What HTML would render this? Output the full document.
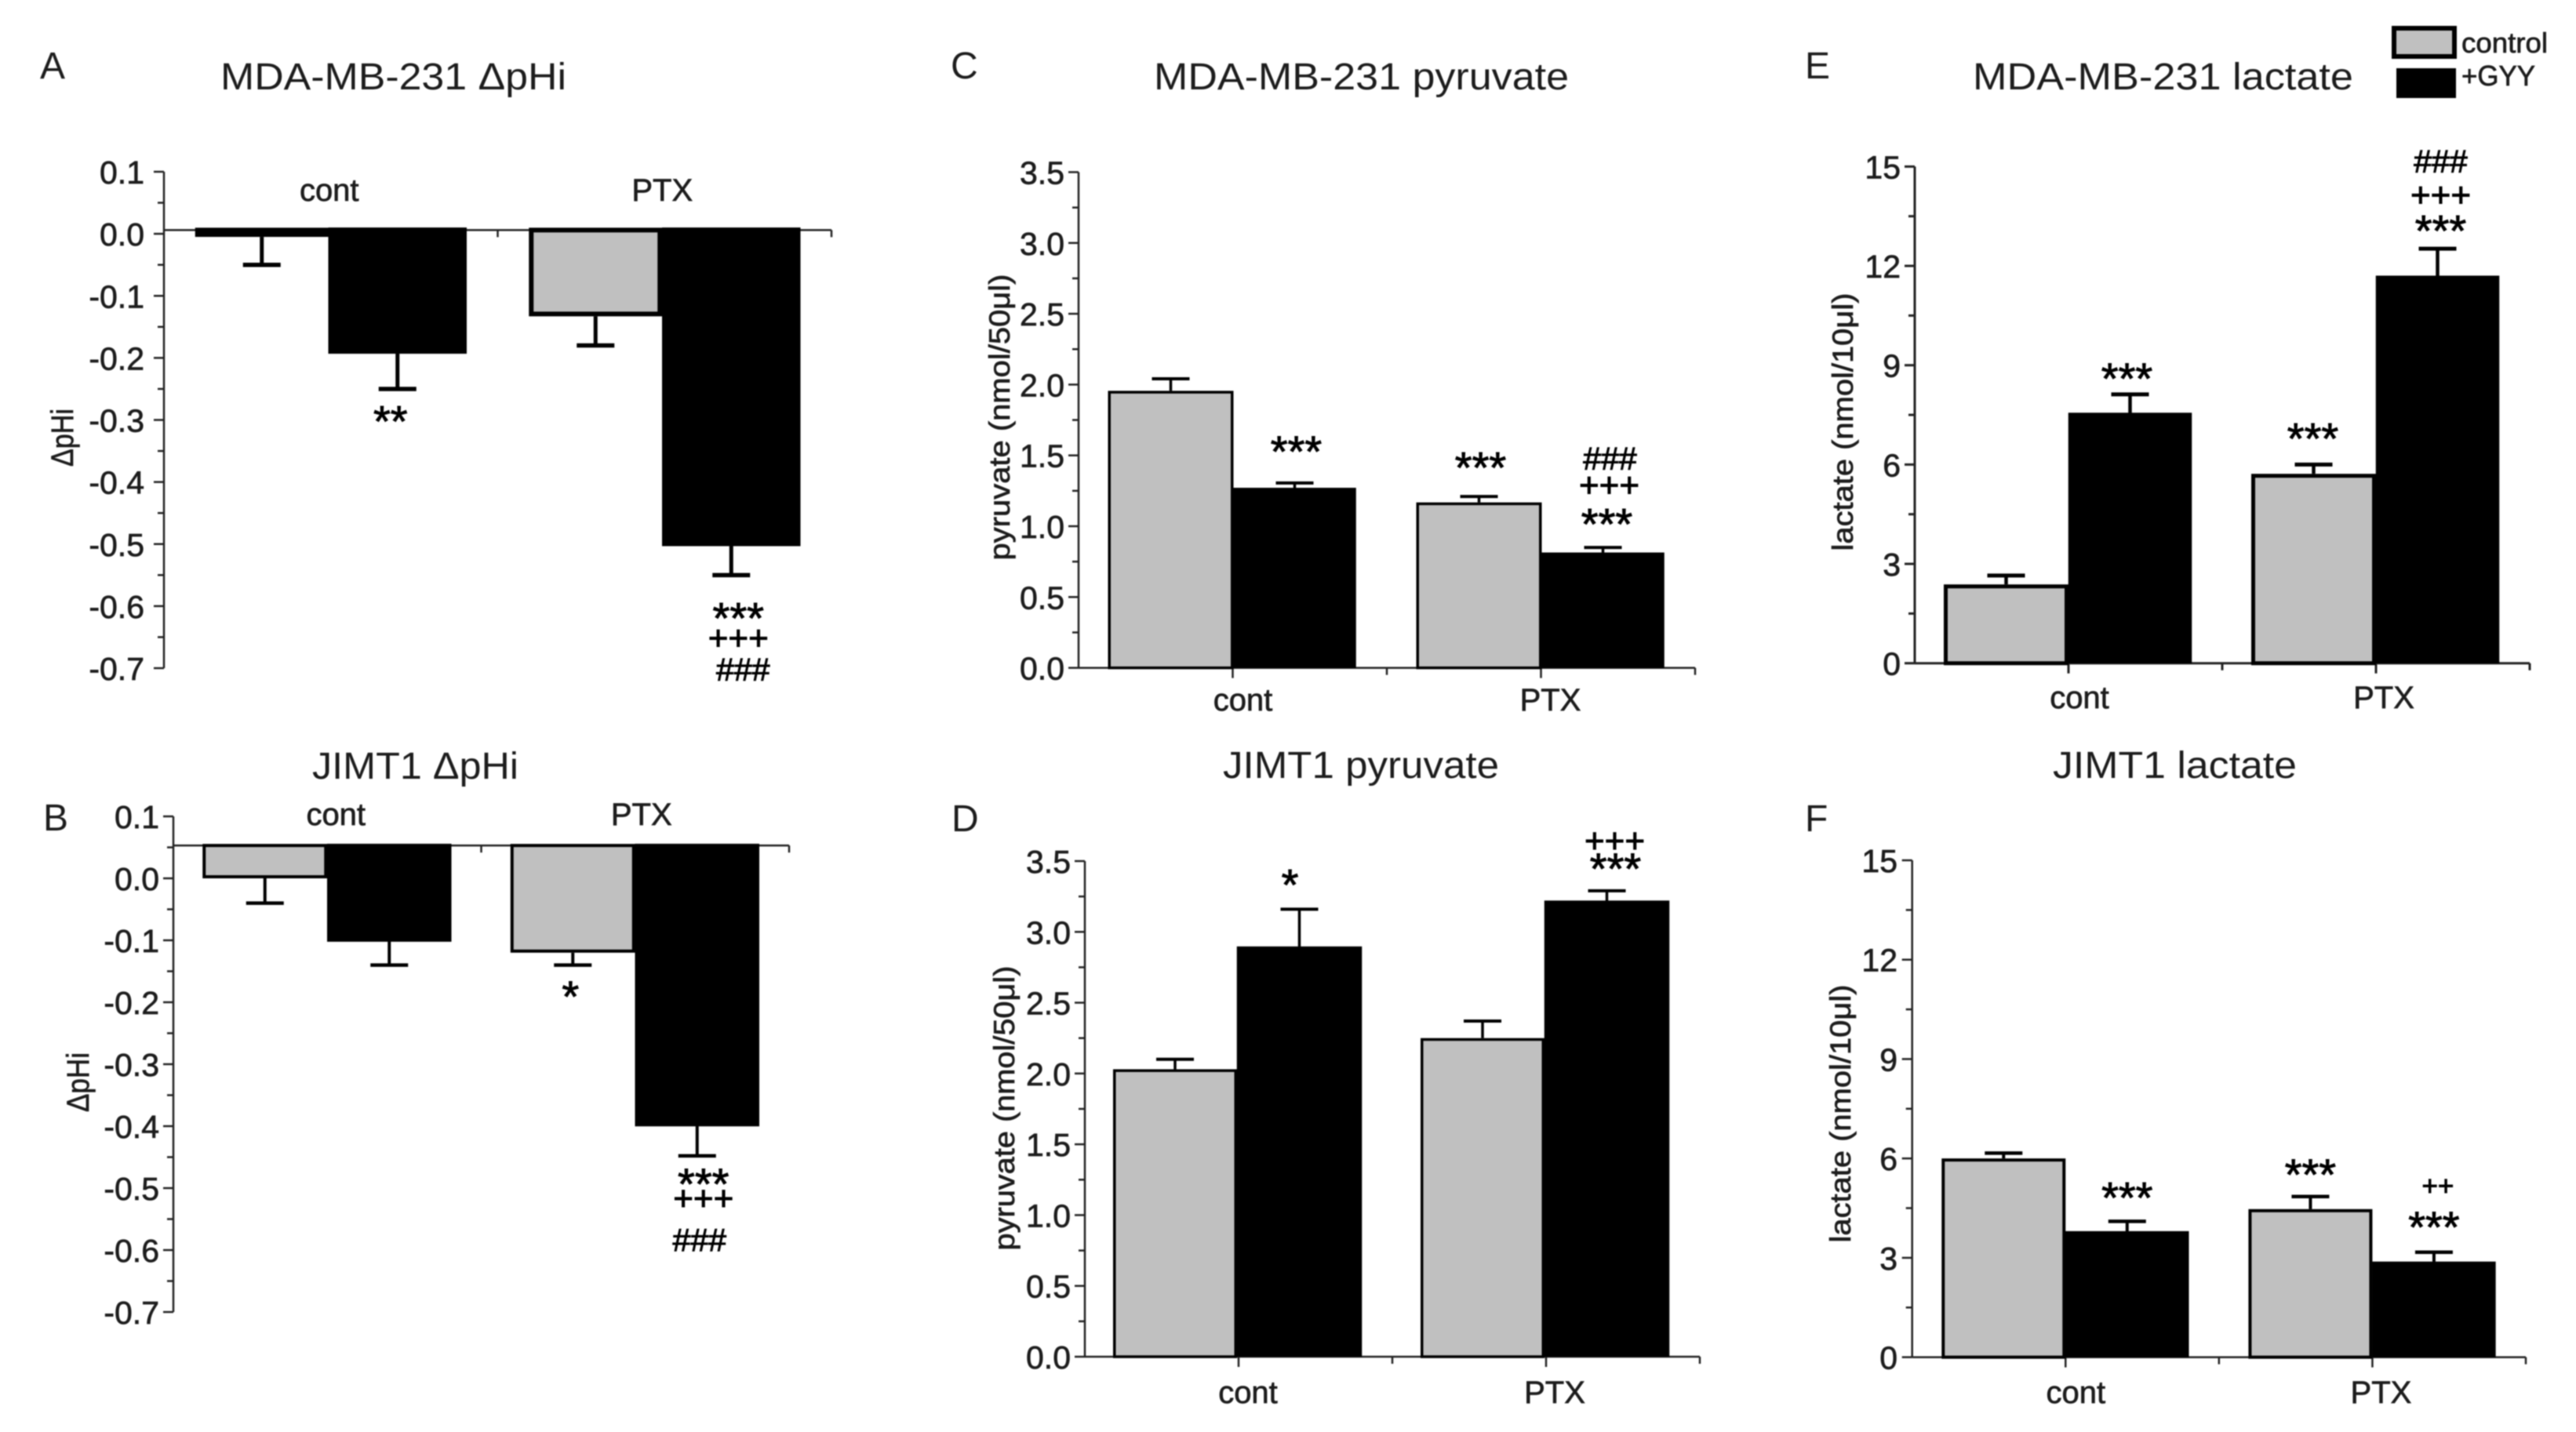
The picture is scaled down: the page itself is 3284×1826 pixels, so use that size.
<!DOCTYPE html>
<html lang="en">
<head>
<meta charset="utf-8">
<title>MDA-MB-231 and JIMT1 pHi, pyruvate and lactate</title>
<style>
html,body{margin:0;padding:0;background:#fff;}
svg{display:block;width:3284px;height:1826px;font-family:"Liberation Sans",sans-serif;filter:blur(0.7px);}
text{fill:#1c1c1c;}
.heavy{stroke:#1c1c1c;stroke-width:0.7px;}
.mark{stroke:#000;stroke-width:1px;fill:#000;}
</style>
</head>
<body>
<svg id="figure" xmlns="http://www.w3.org/2000/svg" width="3284" height="1826" viewBox="0 0 3284 1826">
  <rect x="0" y="0" width="3284" height="1826" fill="#fff"/>

  <text x="51" y="100" font-size="48">A</text>
  <text x="55" y="1059" font-size="48">B</text>
  <text x="1212" y="100" font-size="48">C</text>
  <text x="1213" y="1060" font-size="48">D</text>
  <text x="2301" y="100" font-size="48">E</text>
  <text x="2301" y="1060" font-size="48">F</text>

  <text x="281" y="114" font-size="48" textLength="441" lengthAdjust="spacingAndGlyphs">MDA-MB-231 ΔpHi</text>
  <text x="398" y="993" font-size="48" textLength="263" lengthAdjust="spacingAndGlyphs">JIMT1 ΔpHi</text>
  <text x="1471" y="114" font-size="48" textLength="529" lengthAdjust="spacingAndGlyphs">MDA-MB-231 pyruvate</text>
  <text x="1559" y="992" font-size="48" textLength="352" lengthAdjust="spacingAndGlyphs">JIMT1 pyruvate</text>
  <text x="2515" y="114" font-size="48" textLength="485" lengthAdjust="spacingAndGlyphs">MDA-MB-231 lactate</text>
  <text x="2617" y="992" font-size="48" textLength="311" lengthAdjust="spacingAndGlyphs">JIMT1 lactate</text>

  <text class="heavy" transform="translate(93 558) rotate(-90)" text-anchor="middle" font-size="40" textLength="74" lengthAdjust="spacingAndGlyphs">ΔpHi</text>
  <text class="heavy" transform="translate(113 1380) rotate(-90)" text-anchor="middle" font-size="40" textLength="76" lengthAdjust="spacingAndGlyphs">ΔpHi</text>
  <text class="heavy" transform="translate(1287 532) rotate(-90)" text-anchor="middle" font-size="37" textLength="365" lengthAdjust="spacingAndGlyphs">pyruvate (nmol/50μl)</text>
  <text class="heavy" transform="translate(1293 1413) rotate(-90)" text-anchor="middle" font-size="37" textLength="363" lengthAdjust="spacingAndGlyphs">pyruvate (nmol/50μl)</text>
  <text class="heavy" transform="translate(2362 538) rotate(-90)" text-anchor="middle" font-size="37" textLength="329" lengthAdjust="spacingAndGlyphs">lactate (nmol/10μl)</text>
  <text class="heavy" transform="translate(2359 1420) rotate(-90)" text-anchor="middle" font-size="37" textLength="329" lengthAdjust="spacingAndGlyphs">lactate (nmol/10μl)</text>

  <g>
    <rect x="3052" y="36" width="77" height="36" fill="#c0c0c0" stroke="#000" stroke-width="6"/>
    <text class="heavy" x="3138" y="67" font-size="36" textLength="110" lengthAdjust="spacingAndGlyphs">control</text>
    <rect x="3055" y="87" width="76" height="38" fill="#000"/>
    <text class="heavy" x="3138" y="109" font-size="36" textLength="94" lengthAdjust="spacingAndGlyphs">+GYY</text>
  </g>
</svg>

<script>
// Shared labels
const categories = ['cont', 'PTX'];
const seriesNames = ['control', 'gyy'];

// Axis tick values
const phTicks = [0.1, 0.0, -0.1, -0.2, -0.3, -0.4, -0.5, -0.6, -0.7];
const pyruvateTicks = [0.0, 0.5, 1.0, 1.5, 2.0, 2.5, 3.0, 3.5];
const lactateTicks = [0, 3, 6, 9, 12, 15];

// Panel A: MDA-MB-231 delta pHi
const aControl = [-0.005, -0.133];
const aGyy = [-0.193, -0.503];
const aControlErr = [0.045, 0.047];
const aGyyErr = [0.057, 0.047];

// Panel B: JIMT1 delta pHi
const bControl = [0.0, -0.12];
const bGyy = [-0.102, -0.40];
const bControlErr = [0.04, 0.02];
const bGyyErr = [0.038, 0.048];

// Panel C: MDA-MB-231 pyruvate
const cControl = [1.956, 1.168];
const cGyy = [1.27, 0.813];
const cControlErr = [0.085, 0.042];
const cGyyErr = [0.035, 0.037];

// Panel D: JIMT1 pyruvate
const dControl = [2.03, 2.25];
const dGyy = [2.896, 3.22];
const dControlErr = [0.07, 0.12];
const dGyyErr = [0.264, 0.07];

// Panel E: MDA-MB-231 lactate
const eControl = [2.38, 5.72];
const eGyy = [7.56, 11.7];
const eControlErr = [0.27, 0.28];
const eGyyErr = [0.56, 0.82];

// Panel F: JIMT1 lactate
const fControl = [6.0, 4.47];
const fGyy = [3.8, 2.88];
const fControlErr = [0.16, 0.38];
const fGyyErr = [0.3, 0.29];

const SVG_NS = 'http://www.w3.org/2000/svg';
const figure = document.getElementById('figure');

function make(parent, tag, name, props, text) {
  const el = document.createElementNS(SVG_NS, tag);
  
  
  for (const key in props) el.setAttribute(key, props[key]);
  if (text !== undefined) el.textContent = text;
  parent.appendChild(el);
  return el;
}

function linear(d0, d1, r0, r1) {
  return function (v) { return r0 + (v - d0) * (r1 - r0) / (d1 - d0); };
}

function drawPanel(p) {
  const g = make(figure, 'g', 'panel-' + p.id, {});
  const ticks = p.ticks;
  const y = linear(ticks[0], ticks[ticks.length - 1], p.yA, p.yB);
  const axisY = p.axisValue === undefined ? y(0) : y(p.axisValue);
  const plotW = p.x1 - p.x0;
  const center = function (i) { return p.x0 + plotW * (i + 0.5) / categories.length; };
  const split = p.split || 0;
  const grayLeft = p.grayLeft || 0;
  const edgeLeft = function (i, si) {
    return si === 0 ? center(i) - p.barW + grayLeft : center(i) + split;
  };
  const edgeRight = function (i, si) {
    return si === 0 ? center(i) + split : center(i) + p.barW;
  };
  const barMid = function (i, si) { return (edgeLeft(i, si) + edgeRight(i, si)) / 2; };

  // x axis + y axis
  make(g, 'line', 'y-axis-' + p.id, {x1: p.x0, x2: p.x0, y1: Math.min(p.yA, p.yB), y2: Math.max(p.yA, p.yB, axisY), stroke: '#222', 'stroke-width': p.axisW});
  make(g, 'line', 'x-axis-' + p.id, {x1: p.x0, x2: p.x1, y1: axisY, y2: axisY, stroke: '#222', 'stroke-width': p.axisW});

  // y ticks and labels
  ticks.forEach(function (t, i) {
    const ty = y(t);
    make(g, 'line', 'y-tick-' + p.id, {x1: p.x0 - 13, x2: p.x0, y1: ty, y2: ty, stroke: '#222', 'stroke-width': p.axisW});
    make(g, 'text', 'y-tick-label-' + p.id, {class: 'heavy', x: p.labelRight, y: ty + 15, 'text-anchor': 'end', 'font-size': 41}, t.toFixed(p.decimals));
    if (i < ticks.length - 1) {
      const my = y((t + ticks[i + 1]) / 2);
      make(g, 'line', 'y-minor-tick-' + p.id, {x1: p.x0 - 8, x2: p.x0, y1: my, y2: my, stroke: '#222', 'stroke-width': p.axisW});
    }
  });

  // x ticks
  for (let k = 1; k <= 4; k++) {
    const tx = p.x0 + plotW * k / 4;
    make(g, 'line', 'x-tick-' + p.id, {x1: tx, x2: tx, y1: axisY, y2: axisY + (k % 2 ? 13 : 9), stroke: '#222', 'stroke-width': p.axisW});
  }

  // category labels
  categories.forEach(function (c, i) {
    make(g, 'text', 'category-label-' + p.id, {class: 'heavy', x: center(i) + p.catDx[i], y: p.catY, 'text-anchor': 'middle', 'font-size': 40}, c);
  });

  // error bars then bars
  const series = [
    {name: seriesNames[0], vals: p.control, errs: p.controlErr, fill: '#c0c0c0'},
    {name: seriesNames[1], vals: p.gyy, errs: p.gyyErr, fill: '#000'}
  ];
  series.forEach(function (s, si) {
    s.vals.forEach(function (v, i) {
      const mid = barMid(i, si);
      const dir = v < 0 || p.down ? -1 : 1;
      const tip = y(v + dir * s.errs[i]);
      make(g, 'line', 'error-bar-' + p.id + '-' + categories[i] + '-' + s.name, {x1: mid, x2: mid, y1: y(v), y2: tip, stroke: '#000', 'stroke-width': p.errW});
      make(g, 'line', 'error-cap-' + p.id + '-' + categories[i] + '-' + s.name, {x1: mid - 24, x2: mid + 24, y1: tip, y2: tip, stroke: '#000', 'stroke-width': p.errW + 0.5});
      const yTop = Math.min(axisY, y(v));
      const yBottom = Math.max(axisY, y(v));
      const left = edgeLeft(i, si);
      const right = edgeRight(i, si);
      if (si === 0) {
        const inset = p.barStroke / 2;
        make(g, 'rect', 'bar-' + p.id + '-' + categories[i] + '-' + s.name, {
          x: left + inset, y: p.down ? yTop : yTop + inset,
          width: right - left - inset * 2,
          height: Math.max(yBottom - yTop - inset, 0.5),
          fill: s.fill, stroke: '#000', 'stroke-width': p.barStroke
        });
      } else {
        const lift = p.down ? p.barStroke / 2 : 0;
        make(g, 'rect', 'bar-' + p.id + '-' + categories[i] + '-' + s.name, {
          x: left, y: yTop - lift,
          width: right - left,
          height: yBottom - yTop + lift,
          fill: s.fill, stroke: '#000', 'stroke-width': 0.5
        });
      }
    });
  });

  // significance marks follow the tip of their error bar
  p.marks.forEach(function (m) {
    const list = m[1] === 0 ? series[0] : series[1];
    const v = list.vals[m[0]];
    const dir = v < 0 || p.down ? -1 : 1;
    const tip = y(v + dir * list.errs[m[0]]);
    const mid = barMid(m[0], m[1]);
    const glyph = m[2];
    let fs = 56, lift = 0.47;
    if (glyph === '+++') { fs = 44; lift = 0.30; }
    if (glyph === '++') { fs = 35; lift = 0.30; }
    if (glyph === '###') { fs = 41; lift = 0.30; }
    make(g, 'text', 'significance-mark-' + p.id, {class: 'mark', x: mid + m[3], y: tip + m[4] + fs * lift, 'text-anchor': 'middle', 'font-size': fs}, glyph);
  });
}

drawPanel({id: 'a', ticks: phTicks, decimals: 1, yA: 219, yB: 852, axisValue: 0.006, down: true,
  x0: 209, x1: 1060, barW: 173, split: -3, grayLeft: 0, barStroke: 6, errW: 5, axisW: 2.5, labelRight: 184,
  catY: 256, catDx: [-2, -3], control: aControl, gyy: aGyy, controlErr: aControlErr, gyyErr: aGyyErr,
  marks: [[0, 1, '**', -9, 34], [1, 1, '***', 9, 48], [1, 1, '+++', 9, 82], [1, 1, '###', 15, 122]]});

drawPanel({id: 'b', ticks: phTicks, decimals: 1, yA: 1041, yB: 1673, axisValue: 0.053, down: true,
  x0: 221, x1: 1006, barW: 158, split: 0, grayLeft: -1, barStroke: 4, errW: 4, axisW: 2.5, labelRight: 203,
  catY: 1052, catDx: [11, 8], control: bControl, gyy: bGyy, controlErr: bControlErr, gyyErr: bGyyErr,
  marks: [[1, 0, '*', -3, 33], [1, 1, '***', 8, 29], [1, 1, '+++', 8, 56], [1, 1, '###', 3, 109]]});

drawPanel({id: 'c', ticks: pyruvateTicks, decimals: 1, yA: 851.6, yB: 219.5,
  x0: 1375, x1: 2161, barW: 157, split: 1, grayLeft: -2, barStroke: 3.5, errW: 3.5, axisW: 2.5, labelRight: 1357,
  catY: 906, catDx: [13, 12], control: cControl, gyy: cGyy, controlErr: cControlErr, gyyErr: cGyyErr,
  marks: [[0, 1, '***', 2, -47], [1, 0, '***', 2, -44], [1, 1, '###', 9, -112], [1, 1, '+++', 8, -78], [1, 1, '***', 5, -37]]});

drawPanel({id: 'd', ticks: pyruvateTicks, decimals: 1, yA: 1730, yB: 1098,
  x0: 1383, x1: 2167, barW: 157, split: -2, grayLeft: -3, barStroke: 3.5, errW: 3.5, axisW: 2.5, labelRight: 1365,
  catY: 1789, catDx: [12, 11], control: dControl, gyy: dGyy, controlErr: dControlErr, gyyErr: dGyyErr,
  marks: [[0, 1, '*', -12, -38], [1, 1, '+++', 10, -62], [1, 1, '***', 11, -35]]});

drawPanel({id: 'e', ticks: lactateTicks, decimals: 0, yA: 845.7, yB: 212.4,
  x0: 2441, x1: 3225, barW: 157, split: 0, grayLeft: -2, barStroke: 5, errW: 4.5, axisW: 3, labelRight: 2423,
  catY: 903, catDx: [14, 10], control: eControl, gyy: eGyy, controlErr: eControlErr, gyyErr: eGyyErr,
  marks: [[0, 1, '***', -4, -27], [1, 0, '***', -1, -40], [1, 1, '###', 4, -110], [1, 1, '+++', 4, -67], [1, 1, '***', 4, -30]]});

drawPanel({id: 'f', ticks: lactateTicks, decimals: 0, yA: 1730.6, yB: 1097,
  x0: 2437.7, x1: 3220, barW: 157, split: 0, grayLeft: -1, barStroke: 4, errW: 4, axisW: 2.5, labelRight: 2419,
  catY: 1789, catDx: [13, 11], control: fControl, gyy: fGyy, controlErr: fControlErr, gyyErr: fGyyErr,
  marks: [[0, 1, '***', 0, -37], [1, 0, '***', 0, -35], [1, 1, '++', 5, -83], [1, 1, '***', 0, -39]]});
</script>
</body>
</html>
